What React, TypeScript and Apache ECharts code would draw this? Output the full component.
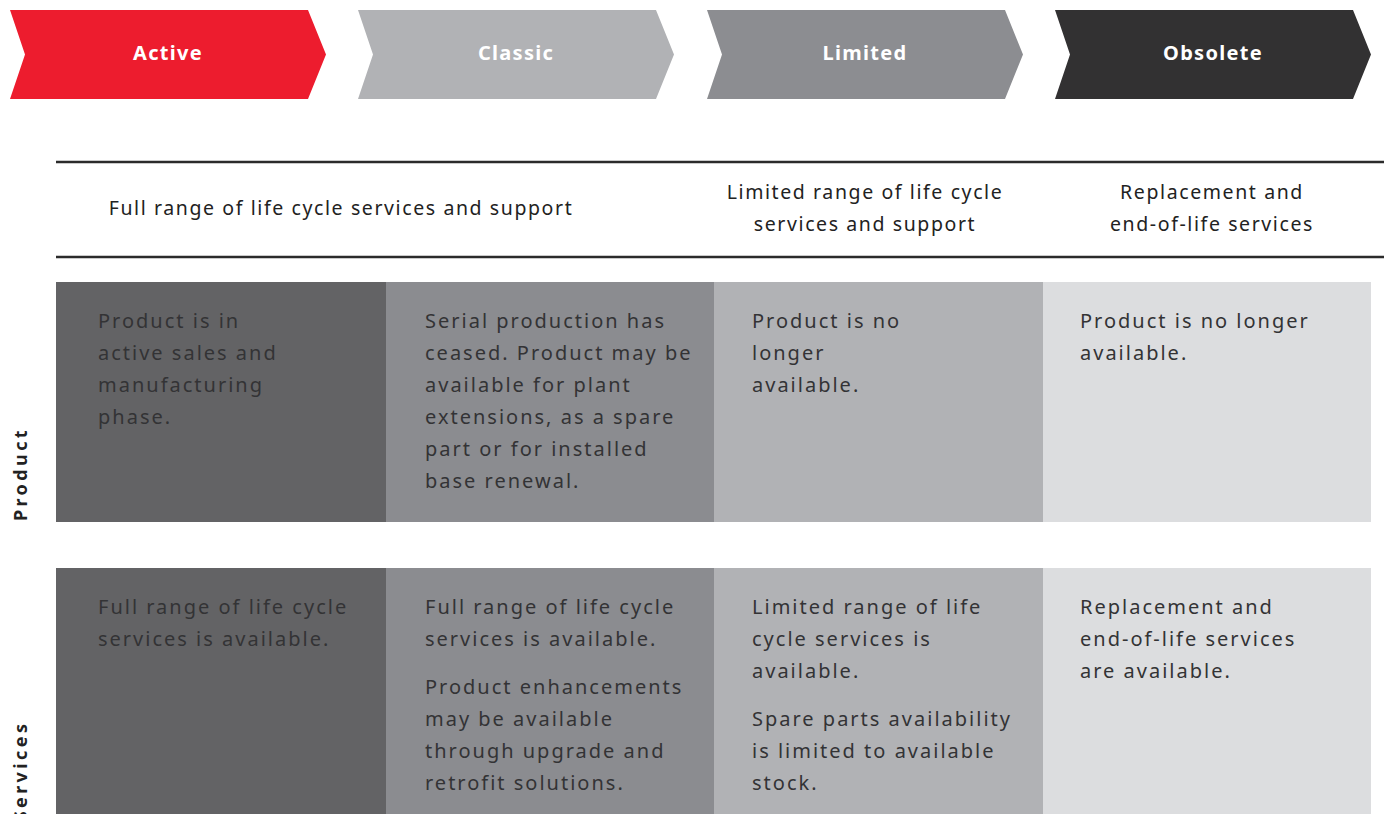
import React, { useEffect, useRef } from "react";
import * as echarts from "echarts";

const stages = ["Active", "Classic", "Limited", "Obsolete"];
const stageColors = ["#ED1C2E", "#B1B2B5", "#8C8D91", "#323132"];
const cellColors = ["#636365", "#8B8C90", "#B1B2B5", "#DCDDDF"];

const headers: { lines: string[]; center: number }[] = [
  { lines: ["Full range of life cycle services and support"], center: 341 },
  { lines: ["Limited range of life cycle", "services and support"], center: 865 },
  { lines: ["Replacement and", "end-of-life services"], center: 1212 },
];

const rowLabels = ["Product", "Services"];

const productTexts: string[][][] = [
  [["Product is in", "active sales and", "manufacturing", "phase."]],
  [["Serial production has", "ceased. Product may be", "available for plant", "extensions, as a spare", "part or for installed", "base renewal."]],
  [["Product is no", "longer", "available."]],
  [["Product is no longer", "available."]],
];

const serviceTexts: string[][][] = [
  [["Full range of life cycle", "services is available."]],
  [["Full range of life cycle", "services is available."], ["Product enhancements", "may be available", "through upgrade and", "retrofit solutions."]],
  [["Limited range of life", "cycle services is", "available."], ["Spare parts availability", "is limited to available", "stock."]],
  [["Replacement and", "end-of-life services", "are available."]],
];

const F_CHEV = "'Noto Sans', lschev, sans-serif";
const F_HEAD = "'Noto Sans', lshead, sans-serif";
const F_BODY = "'Noto Sans', lsbody, sans-serif";
const F_ROW = "'Noto Sans', lsrow, sans-serif";

const css = `
#root svg text[style*="lschev"]{letter-spacing:1.3px}
#root svg text[style*="lshead"]{letter-spacing:1.6px}
#root svg text[style*="lsbody"]{letter-spacing:2px}
#root svg text[style*="lsrow"]{letter-spacing:3.4px}
`;

export default function App() {
  const ref = useRef<HTMLDivElement>(null);
  useEffect(() => {
    if (!ref.current) return;
    const chart = echarts.init(ref.current, null, { renderer: "svg" });
    const g: any[] = [];

    const chevX = [10, 358, 707, 1055];
    const top = 10, bot = 99, mid = 54.5;
    stages.forEach((s, i) => {
      const x0 = chevX[i];
      g.push({
        type: "polygon",
        shape: {
          points: [[x0, top], [x0 + 298, top], [x0 + 316, mid], [x0 + 298, bot], [x0, bot], [x0 + 15, mid]],
        },
        style: { fill: stageColors[i] },
      });
      g.push({
        type: "text",
        x: x0 + 158,
        y: 52,
        style: { text: s, fill: "#ffffff", fontSize: 20, fontWeight: "bold", fontFamily: F_CHEV, align: "center", verticalAlign: "middle" },
      });
    });

    [162, 257].forEach((y) => {
      g.push({ type: "line", shape: { x1: 56, y1: y, x2: 1384, y2: y }, style: { stroke: "#2b2b2b", lineWidth: 2.5 } });
    });

    const colX = [56, 386, 714, 1043, 1371];
    headers.forEach((h) => {
      const n = h.lines.length;
      h.lines.forEach((l, k) => {
        g.push({
          type: "text",
          x: h.center,
          y: 207.5 + (k - (n - 1) / 2) * 32,
          style: { text: l, fill: "#222222", fontSize: 19.5, fontFamily: F_HEAD, align: "center", verticalAlign: "middle" },
        });
      });
    });

    const rows = [
      { y0: 282, y1: 522, texts: productTexts, labelY: 474 },
      { y0: 568, y1: 830, texts: serviceTexts, labelY: 771 },
    ];
    const textX = [98, 425, 752, 1080];
    rows.forEach((r, ri) => {
      for (let c = 0; c < 4; c++) {
        g.push({
          type: "rect",
          shape: { x: colX[c], y: r.y0, width: colX[c + 1] - colX[c], height: r.y1 - r.y0 },
          style: { fill: cellColors[c] },
        });
        let y = r.y0 + 38;
        r.texts[c].forEach((para) => {
          para.forEach((l) => {
            g.push({
              type: "text",
              x: textX[c],
              y,
              style: { text: l, fill: "#333335", fontSize: 20, fontFamily: F_BODY, align: "left", verticalAlign: "middle" },
            });
            y += 32;
          });
          y += 16;
        });
      }
      g.push({
        type: "text",
        x: 20,
        y: r.labelY,
        rotation: Math.PI / 2,
        style: { text: rowLabels[ri], fill: "#222222", fontSize: 18, fontWeight: "bold", fontFamily: F_ROW, align: "center", verticalAlign: "middle" },
      });
    });

    chart.setOption({ animation: false, graphic: { elements: g } });
    return () => chart.dispose();
  }, []);
  return (
    <>
      <style>{css}</style>
      <div ref={ref} style={{ position: "fixed", left: 0, top: 0, width: 1384, height: 814, background: "#fff" }} />
    </>
  );
}
